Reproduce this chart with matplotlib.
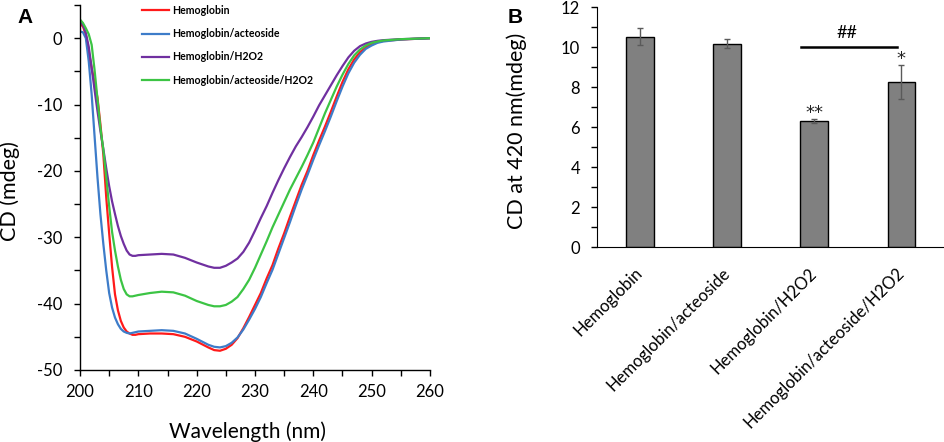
import numpy as np
import matplotlib
matplotlib.use('Agg')
import matplotlib.pyplot as plt
from matplotlib.ticker import MultipleLocator

plt.rcParams['font.family'] = ['Lato', 'DejaVu Sans']
plt.rcParams['axes.unicode_minus'] = False

# ---- panel A data: CD spectra ----
wavelength = [200, 200.5, 201, 201.5, 202, 202.5, 203, 203.5, 204, 204.5,
              205, 205.5, 206, 206.5, 207, 207.5, 208, 208.5, 209, 209.5,
              210, 212, 214, 216, 218, 220, 222, 223, 224, 225,
              226, 227, 228, 229, 230, 231, 232, 233, 234, 235,
              236, 237, 238, 239, 240, 241, 242, 243, 244, 245,
              246, 247, 248, 249, 250, 251, 252, 255, 260]

cd_hb = [2.1, 1.8, 0.5, -2.0, -4.5, -6.7, -9.0, -13.0, -17.5, -24.0,
         -29.4, -34.5, -38.6, -41.0, -42.6, -43.6, -44.2, -44.5, -44.7, -44.7,
         -44.6, -44.5, -44.5, -44.6, -45.0, -45.7, -46.6, -47.0, -47.1, -46.8,
         -46.2, -45.2, -43.7, -42.0, -40.2, -38.4, -36.2, -34.2, -31.7, -29.4,
         -26.9, -24.5, -22.1, -20.0, -17.6, -15.4, -13.3, -11.1, -8.8, -6.6,
         -4.7, -3.2, -2.1, -1.4, -0.9, -0.6, -0.4, -0.2, 0.0]

cd_hb_act = [1.0, 0.9, 0.0, -3.5, -8.5, -14.8, -21.0, -26.5, -31.0, -35.0,
             -38.4, -40.6, -42.1, -43.1, -43.8, -44.2, -44.4, -44.5, -44.4, -44.3,
             -44.2, -44.1, -44.0, -44.1, -44.5, -45.3, -46.2, -46.5, -46.6, -46.4,
             -45.9, -45.1, -43.9, -42.4, -40.8, -39.0, -36.9, -34.9, -32.5, -30.1,
             -27.7, -25.2, -22.8, -20.6, -18.3, -16.1, -14.0, -11.8, -9.5, -7.3,
             -5.3, -3.7, -2.5, -1.6, -1.1, -0.7, -0.5, -0.2, 0.0]

cd_hb_h2o2 = [2.6, 2.0, 0.8, -1.3, -4.5, -7.8, -11.0, -14.0, -16.7, -19.6,
              -22.3, -24.6, -26.5, -28.3, -29.8, -31.0, -32.0, -32.6, -32.8, -32.8,
              -32.7, -32.6, -32.5, -32.6, -33.1, -33.8, -34.4, -34.6, -34.6, -34.3,
              -33.8, -33.2, -32.2, -30.8, -29.0, -27.1, -25.3, -23.3, -21.4, -19.6,
              -17.9, -16.3, -14.9, -13.4, -11.8, -10.1, -8.6, -7.1, -5.6, -4.2,
              -2.9, -1.9, -1.2, -0.8, -0.55, -0.4, -0.3, -0.15, 0.0]

cd_hb_act_h2o2 = [2.8, 2.3, 1.5, 0.6, -1.0, -4.8, -9.2, -13.5, -16.8, -21.0,
                  -25.3, -29.2, -32.0, -34.4, -36.4, -37.8, -38.6, -38.9, -38.9, -38.8,
                  -38.7, -38.4, -38.2, -38.3, -38.8, -39.6, -40.2, -40.4, -40.4, -40.2,
                  -39.7, -39.0, -37.8, -36.4, -34.6, -32.6, -30.6, -28.5, -26.6, -24.7,
                  -22.8, -21.1, -19.4, -17.6, -15.7, -13.5, -11.3, -9.3, -7.3, -5.5,
                  -3.9, -2.6, -1.7, -1.1, -0.7, -0.5, -0.35, -0.15, 0.0]

series_labels = ['Hemoglobin', 'Hemoglobin/acteoside', 'Hemoglobin/H2O2',
                 'Hemoglobin/acteoside/H2O2']

# ---- panel B data: CD at 420 nm ----
groups = ['Hemoglobin', 'Hemoglobin/acteoside', 'Hemoglobin/H2O2',
          'Hemoglobin/acteoside/H2O2']
cd420 = [10.52, 10.17, 6.32, 8.24]
cd420_err = [0.42, 0.22, 0.10, 0.85]
marks = ['', '', '**', '*']

fig = plt.figure(figsize=(9.45, 4.42), dpi=100)
W, H = 945.0, 442.0

# ---------- panel A ----------
axA = fig.add_axes([80 / W, 1 - 370 / H, 350 / W, 365 / H])
colors = ['#ff1a1a', '#3d7cc9', '#7030a0', '#3cc444']
for ys, c, lab in zip([cd_hb, cd_hb_act, cd_hb_h2o2, cd_hb_act_h2o2], colors, series_labels):
    axA.plot(wavelength, ys, color=c, lw=1.6, label=lab)

axA.set_xlim(200, 260)
axA.set_ylim(-50, 5)
axA.xaxis.set_major_locator(MultipleLocator(10))
axA.xaxis.set_minor_locator(MultipleLocator(5))
axA.yaxis.set_major_locator(MultipleLocator(10))
axA.yaxis.set_minor_locator(MultipleLocator(5))
axA.set_yticks([0, -10, -20, -30, -40, -50])
for s in ['top', 'right']:
    axA.spines[s].set_visible(False)
for s in ['left', 'bottom']:
    axA.spines[s].set_linewidth(1.0)
axA.tick_params(axis='both', which='both', direction='out', length=4, width=1.0)
axA.tick_params(axis='x', which='major', labelsize=12, pad=6)
axA.tick_params(axis='y', which='major', labelsize=12, pad=9)
axA.set_xlabel('Wavelength (nm)', fontsize=15)
axA.set_ylabel('CD (mdeg)', fontsize=15.5)
axA.xaxis.set_label_coords(0.48, -0.14)
axA.yaxis.set_label_coords(-0.17, 0.49)

leg = axA.legend(loc='upper left', bbox_to_anchor=(142 / W, 1 - 5 / H),
                 bbox_transform=fig.transFigure, frameon=False,
                 prop={'family': 'Lato', 'weight': 'bold', 'size': 7.6},
                 handlelength=2.6, handletextpad=0.3, labelspacing=1.16,
                 borderpad=0, borderaxespad=0)

fig.text(17 / W, 1 - 23 / H, 'A', fontsize=15, fontweight='bold',
         family='Liberation Sans', ha='left', va='baseline')

# ---------- panel B ----------
axB = fig.add_axes([596.7 / W, 1 - 247 / H, (945 - 596.7) / W, 240 / H])
x = np.arange(len(groups))
axB.bar(x, cd420, width=0.32, color='#808080', edgecolor='black', linewidth=1.0, zorder=2)
axB.errorbar(x, cd420, yerr=cd420_err, fmt='none', ecolor='#5a5a5a',
             elinewidth=1.0, capsize=2.5, capthick=1.0, zorder=3)
for xi, v, e, m in zip(x, cd420, cd420_err, marks):
    if m:
        axB.text(xi, v + e + 0.3, m, ha='center', va='center', fontsize=13,
                 family='DejaVu Sans', color='#222222')

# significance bracket between H2O2 groups
axB.plot([x[2] - 0.15, x[3] - 0.05], [10.0, 10.0], color='black', lw=1.8)
axB.text((x[2] + x[3]) / 2 - 0.13, 10.3, '##', ha='center', va='bottom', fontsize=13)

axB.set_xlim(-0.5, 3.5)
axB.set_ylim(0, 12)
axB.yaxis.set_major_locator(MultipleLocator(2))
axB.yaxis.set_minor_locator(MultipleLocator(1))
for s in ['top', 'right']:
    axB.spines[s].set_visible(False)
axB.tick_params(axis='y', which='both', direction='out', length=4, width=1.0)
axB.tick_params(axis='y', which='major', labelsize=12, pad=8)
axB.set_xticks(x)
axB.set_xticklabels(groups, rotation=45, ha='right', va='center', rotation_mode='anchor', fontsize=12)
axB.tick_params(axis='x', length=0, pad=17)
axB.set_ylabel('CD at 420 nm(mdeg)', fontsize=15.5)
axB.yaxis.set_label_coords(-0.2, 0.483)

fig.text(508 / W, 1 - 23 / H, 'B', fontsize=15, fontweight='bold',
         family='Liberation Sans', ha='left', va='baseline')

fig.savefig('out.png', dpi=100)
